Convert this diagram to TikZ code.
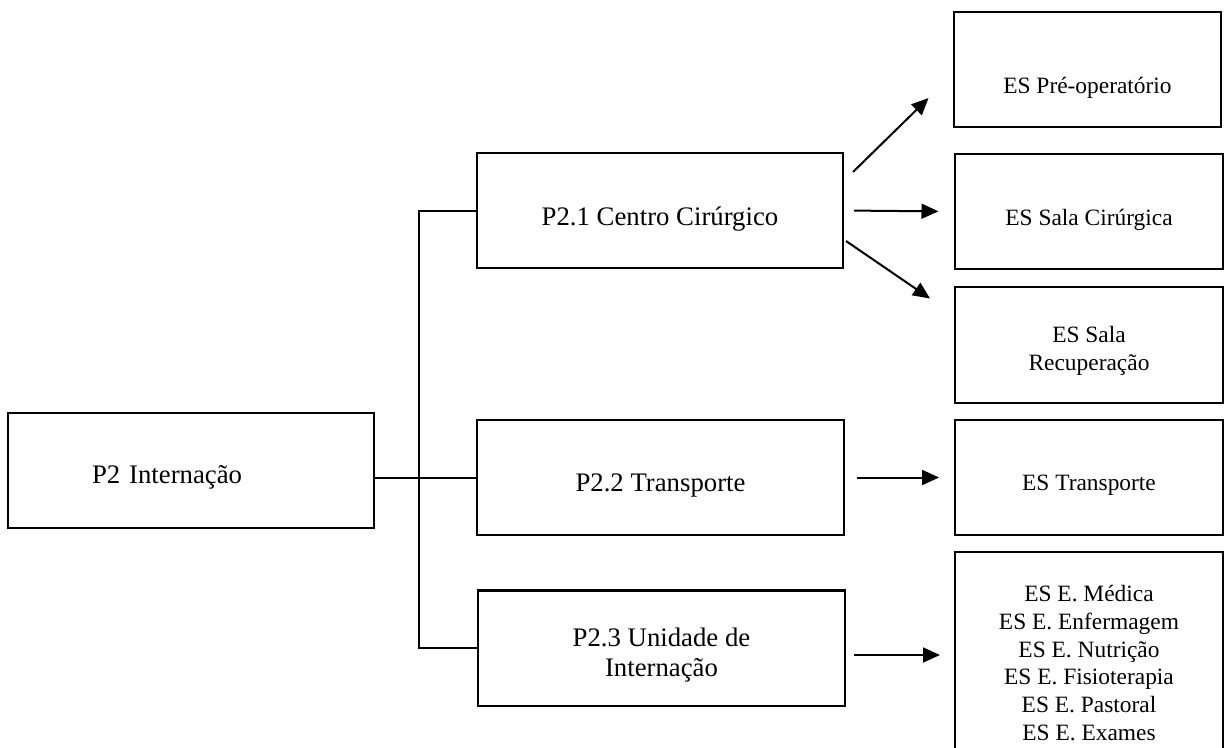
\documentclass[tikz,border=0pt]{standalone}
\usepackage{fontspec}
\setmainfont{Liberation Serif}
\usetikzlibrary{arrows.meta}
\begin{document}
\begin{tikzpicture}[x=0.4486pt, y=-0.4486pt, line width=0.9pt,
    proc/.style={draw, minimum width=164.2pt, minimum height=51.6pt, inner sep=0pt, font=\fontsize{12}{13.5}\selectfont, align=center, text depth=2.6pt},
    es/.style={draw, minimum width=120.2pt, minimum height=51.6pt, inner sep=0pt, font=\fontsize{10.5}{12.4}\selectfont, align=center, text depth=2.3pt},
    seta/.style={-{Triangle[length=7.6pt, width=6.7pt]}}]
            \clip (0,0) rectangle (1224,747);

            \node[proc, align=left, text width=88.8pt, inner xsep=37.7pt, text height=14.5pt] (P2) at (191,470.5) {P2 Internação};
            \node[proc, text height=16.3pt] (P21) at (660,210.5) {P2.1 Centro Cirúrgico};
            \node[proc, text height=15.2pt] (P22) at (660.5,477.5) {P2.2 Transporte};
            \node[proc, text height=28pt] (P23) at (661.5,648) {P2.3 Unidade de\\Internação};

            \node[es, text height=24.1pt] (PreOp) at (1087.5,69.5) {ES Pré-operatório};
            \node[es, text height=14.6pt] (SalaCir) at (1089,211.5) {ES Sala Cirúrgica};
            \node[es, text height=25.2pt] (SalaRec) at (1089,345) {ES Sala\\Recuperação};
            \node[es, text height=14.2pt] (ESTransp) at (1089,477.5) {ES Transporte};
            \node[es, minimum height=92.4pt, text height=76.6pt, text depth=0.2pt] (ESLista) at (1089,655) {ES E. Médica\\ES E. Enfermagem\\ES E. Nutrição\\ES E. Fisioterapia\\ES E. Pastoral\\ES E. Exames};

            \draw (P2.east |- P22) -- (P22.west);
            \draw (P21.west) -- ++(-57,0) |- (P23.west);

            \draw[seta] ([shift={(9,20)}]P21.north east) -- ([shift={(-24,-30)}]PreOp.south west);
            \draw[seta, shorten <=4.5pt, shorten >=7pt] (P21.east) -- (SalaCir.west);
            \draw[seta] ([shift={(2,-28)}]P21.south east) -- ([shift={(-24,12)}]SalaRec.north west);
            \draw[seta, shorten <=5.4pt, shorten >=6.7pt] (P22.east) -- (ESTransp.west);
            \draw[seta, shorten <=4pt, shorten >=6.3pt] (P23.east |- ESLista) -- (ESLista.west);
        \end{tikzpicture}
\end{document}
